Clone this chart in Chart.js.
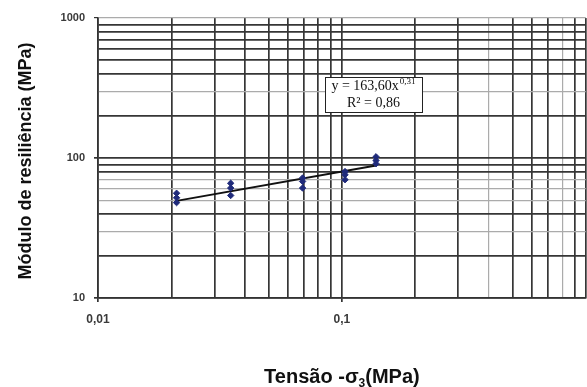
<!DOCTYPE html>
<html>
<head>
<meta charset="utf-8">
<script src="https://cdn.jsdelivr.net/npm/chart.js@4.4.1/dist/chart.umd.min.js"></script>
<style>
  html, body { margin: 0; padding: 0; overflow: hidden; background: #fff; width: 587px; height: 387px; }
  canvas { display: block; }
</style>
</head>
<body>
<canvas id="chart" width="590" height="387"></canvas>
<script>
// Confining stress (MPa) and resilient modulus (MPa) of each test
const sigma3  = [0.021, 0.021, 0.021, 0.035, 0.035, 0.035, 0.069, 0.069, 0.069, 0.103, 0.103, 0.103, 0.138, 0.138, 0.138];
const modulus = [56, 52, 48, 66, 61, 54, 72, 68, 61, 80, 76, 70, 102, 96, 91];

// Power-law fit  y = k * x^n
const fitK = 163.60;
const fitN = 0.31;
const fitR2 = '0,86';
const fitRange = [0.021, 0.138];

// Log-paper grid values and labelled ticks
const xGrid = [0.01, 0.02, 0.03, 0.04, 0.05, 0.06, 0.07, 0.08, 0.09, 0.1, 0.2, 0.3, 0.4, 0.5, 0.6, 0.7, 0.8, 0.9, 1];
const yGrid = [10, 20, 30, 40, 50, 60, 70, 80, 90, 100, 200, 300, 400, 500, 600, 700, 800, 900, 1000];
const xTickValues = [0.01, 0.1];
const xTickLabels = ['0,01', '0,1'];
const yTickValues = [10, 100, 1000];
const yTickLabels = ['10', '100', '1000'];
const xLightLines = [0.4, 0.8];
const yLightLines = [30, 50, 60, 70, 300, 1000];

const same = (a, b) => Math.abs(a - b) <= 1e-6 * Math.abs(b);
const findIn = (list, v) => list.findIndex(t => same(v, t));

const DARK = '#363636';
const LIGHT = '#ababab';

const points = sigma3.map((x, i) => ({ x, y: modulus[i] }));
const fitLine = fitRange.map(x => ({ x, y: fitK * Math.pow(x, fitN) }));

const decorations = {
  id: 'decorations',
  afterDraw(chart) {
    const { ctx, chartArea } = chart;
    ctx.save();
    ctx.fillStyle = '#111';

    // x axis title with subscript
    const bold = 'bold 20px "Liberation Sans", Arial, sans-serif';
    const sub = 'bold 12px "Liberation Sans", Arial, sans-serif';
    const p1 = 'Tensão -σ', p2 = '3', p3 = '(MPa)';
    ctx.font = bold; const w1 = ctx.measureText(p1).width, w3 = ctx.measureText(p3).width;
    ctx.font = sub; const w2 = ctx.measureText(p2).width;
    let tx = (chartArea.left + chartArea.right) / 2 - (w1 + w2 + w3) / 2;
    const ty = 383;
    ctx.textBaseline = 'alphabetic';
    ctx.textAlign = 'left';
    ctx.font = bold; ctx.fillText(p1, tx, ty); tx += w1;
    ctx.font = sub; ctx.fillText(p2, tx, ty + 4); tx += w2;
    ctx.font = bold; ctx.fillText(p3, tx, ty);

    // y axis title
    ctx.save();
    ctx.translate(31, (chartArea.top + chartArea.bottom) / 2 + 3);
    ctx.rotate(-Math.PI / 2);
    ctx.textAlign = 'center';
    ctx.font = 'bold 18px "Liberation Sans", Arial, sans-serif';
    ctx.fillText('Módulo de resiliência (MPa)', 0, 0);
    ctx.restore();

    // equation box
    const bx = 325, by = 77, bw = 97, bh = 35;
    ctx.fillStyle = '#fff';
    ctx.fillRect(bx, by, bw, bh);
    ctx.strokeStyle = '#222';
    ctx.lineWidth = 1;
    ctx.strokeRect(bx + 0.5, by + 0.5, bw, bh);
    ctx.fillStyle = '#111';
    const serif = '14px "Liberation Serif", "Times New Roman", serif';
    const serifSup = '9px "Liberation Serif", "Times New Roman", serif';
    const e1 = 'y = ' + fitK.toFixed(2).replace('.', ',') + 'x';
    const e2 = fitN.toFixed(2).replace('.', ',');
    ctx.font = serif; const we1 = ctx.measureText(e1).width;
    ctx.font = serifSup; const we2 = ctx.measureText(e2).width;
    let ex = bx + bw / 2 - (we1 + we2 + 1) / 2;
    ctx.textAlign = 'left';
    ctx.font = serif; ctx.fillText(e1, ex, 90);
    ctx.font = serifSup; ctx.fillText(e2, ex + we1 + 1, 84);
    ctx.font = serif; ctx.textAlign = 'center';
    ctx.fillText('R² = ' + fitR2, bx + bw / 2, 107);
    ctx.restore();
  }
};

new Chart(document.getElementById('chart'), {
  type: 'scatter',
  data: {
    datasets: [
      {
        type: 'line',
        label: 'Ajuste',
        data: fitLine,
        borderColor: '#111',
        borderWidth: 2,
        pointRadius: 0,
        fill: false,
        order: 2
      },
      {
        label: 'Ensaios',
        data: points,
        backgroundColor: '#1f2a7a',
        borderColor: '#1f2a7a',
        pointStyle: 'rectRot',
        pointRadius: 3.2,
        pointHoverRadius: 3.2,
        order: 1
      }
    ]
  },
  options: {
    responsive: false,
    animation: false,
    events: [],
    layout: { padding: { left: 0, right: 0, top: 18, bottom: 0 } },
    plugins: {
      legend: { display: false },
      tooltip: { enabled: false }
    },
    scales: {
      x: {
        type: 'logarithmic',
        min: 0.01,
        max: 1,
        afterBuildTicks: s => { s.ticks = xGrid.map(v => ({ value: v })); },
        afterFit: s => { s.height = 89; s.paddingRight = 0; s.paddingLeft = 0; },
        border: { color: '#333', width: 1.6 },
        grid: {
          color: c => findIn(xLightLines, c.tick.value) >= 0 ? LIGHT : DARK,
          lineWidth: c => findIn(xLightLines, c.tick.value) >= 0 ? 1.2 : 1.7,
          tickLength: 4,
          tickColor: c => findIn(xTickValues, c.tick.value) >= 0 ? '#333' : 'rgba(0,0,0,0)'
        },
        ticks: {
          autoSkip: false,
          maxRotation: 0,
          padding: 10,
          color: '#3a3a3a',
          font: { family: '"Liberation Sans", Arial, sans-serif', size: 12, weight: 'bold' },
          callback: v => { const i = findIn(xTickValues, v); return i >= 0 ? xTickLabels[i] : ''; }
        }
      },
      y: {
        type: 'logarithmic',
        min: 10,
        max: 1000,
        afterBuildTicks: s => { s.ticks = yGrid.map(v => ({ value: v })); },
        afterFit: s => { s.width = 98; },
        border: { color: '#333', width: 1.6 },
        grid: {
          color: c => findIn(yLightLines, c.tick.value) >= 0 ? LIGHT : DARK,
          lineWidth: c => findIn(yLightLines, c.tick.value) >= 0 ? 1.2 : 1.7,
          tickLength: 4,
          tickColor: c => findIn(yTickValues, c.tick.value) >= 0 ? '#333' : 'rgba(0,0,0,0)'
        },
        ticks: {
          autoSkip: false,
          padding: 9,
          color: '#3a3a3a',
          font: { family: '"Liberation Sans", Arial, sans-serif', size: 11, weight: 'bold' },
          callback: v => { const i = findIn(yTickValues, v); return i >= 0 ? yTickLabels[i] : ''; }
        }
      }
    }
  },
  plugins: [decorations]
});
</script>
</body>
</html>
